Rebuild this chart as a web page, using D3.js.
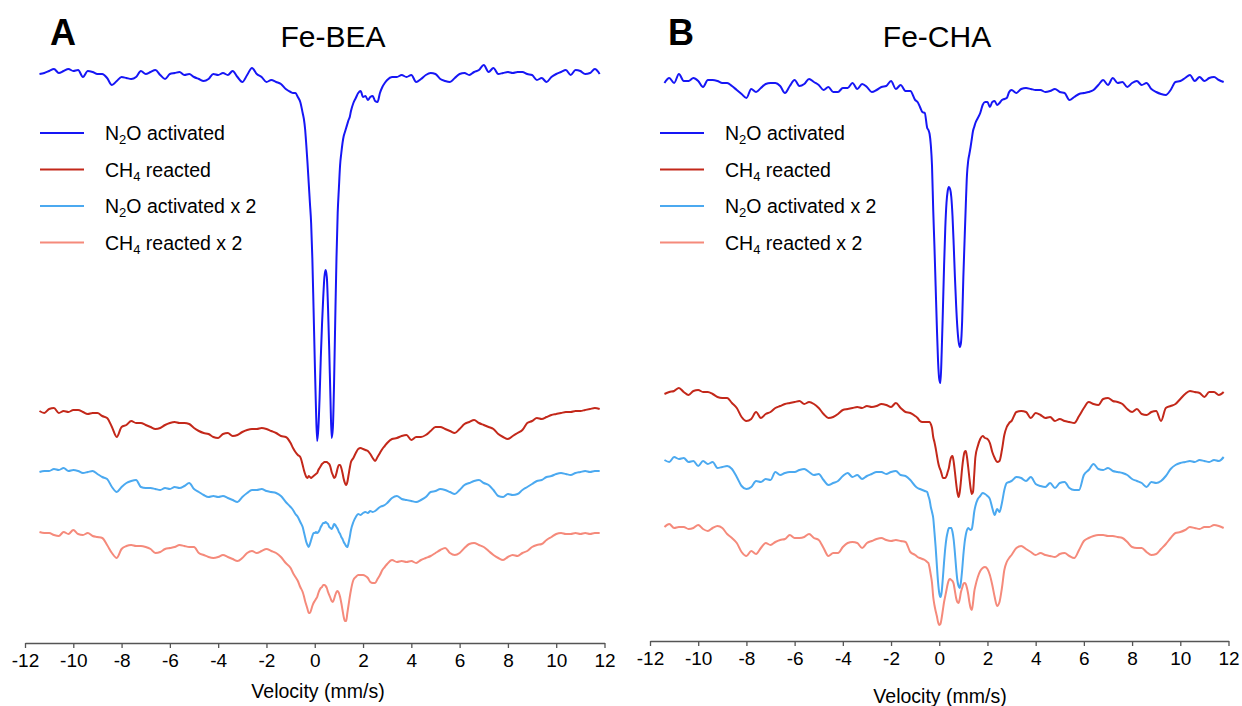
<!DOCTYPE html>
<html lang="en">
<head>
  <meta charset="UTF-8">
  <script src="https://d3js.org/d3.v7.min.js"></script>
  <style>
    body {
      margin: 0;
      background: #fff;
      font-family: "Liberation Sans", Arial, Helvetica, sans-serif;
    }
    .tick text { font-size: 19px; fill: #000; }
    .tick line, .domain { stroke: #555; stroke-width: 1.3px; }
  </style>
</head>
<body>
<script>
  // velocity grid (mm/s), finer around the quadrupole doublets
  const velocity = [
    -11.4,-11.2,-11,-10.8,-10.6,-10.4,-10.2,-10,-9.8,-9.6,-9.4,-9.2,-9,-8.8,-8.6,-8.4,-8.2,-8,-7.8,-7.6,
    -7.4,-7.2,-7,-6.8,-6.6,-6.4,-6.2,-6,-5.8,-5.6,-5.4,-5.2,-5,-4.8,-4.6,-4.4,-4.2,-4,-3.8,-3.6,
    -3.4,-3.2,-3,-2.8,-2.6,-2.4,-2.2,-2,-1.8,-1.6,-1.4,-1.2,
    -1,-0.9,-0.8,-0.7,-0.6,
    -0.5,-0.45,-0.4,-0.35,-0.3,-0.25,-0.2,-0.15,-0.1,-0.05,0,0.05,0.1,0.15,0.2,0.25,0.3,0.35,0.4,0.45,
    0.5,0.55,0.6,0.65,0.7,0.75,0.8,0.85,0.9,0.95,1,1.05,1.1,1.15,1.2,1.25,1.3,1.35,1.4,1.45,1.5,
    1.6,1.7,1.8,1.9,2,2.1,2.2,2.3,2.4,2.5,2.6,2.7,2.8,2.9,3,
    3.2,3.4,3.6,3.8,4,4.2,4.4,4.6,4.8,5,5.2,5.4,5.6,5.8,6,6.2,6.4,6.6,6.8,7,
    7.2,7.4,7.6,7.8,8,8.2,8.4,8.6,8.8,9,9.2,9.4,9.6,9.8,10,10.2,10.4,10.6,10.8,11,
    11.2,11.4,11.6,11.8
  ];

  // stacked transmission (offset, a.u.) -- Fe-BEA
  const beaN2O = [
    56.9,57.0,57.2,57.4,57.0,57.2,57.4,57.2,57.3,56.6, 57.2,57.1,56.9,56.9,56.5,55.8,56.2,56.6,56.5,56.4,
    56.6,57.2,56.9,57.1,57.3,56.8,56.4,56.9,57.0,57.1, 56.8,56.9,56.6,56.4,56.2,56.4,56.9,56.8,57.0,56.8,
    57.2,56.6,56.1,56.8,57.5,56.9,56.6,56.1,56.3,56.1, 55.9,55.4,
    55.1,55.0,55.0,54.6,54.1,
    53.0,52.4,51.4,49.8,48.0,46.0,44.0,42.0,38.5,33.5, 28.3,23.5,20.2,21.5,24.5,28.5,31.8,34.5,36.6,37.3,
    36.6,33.5,29.3,24.5,20.5,21.5,26.0,32.5,38.5,43.0, 45.5,47.8,49.0,50.0,50.7,51.1,51.5,51.9,52.3,52.6, 53.2,
    54.0,54.5,55.0,55.2,54.6,54.7,54.3,54.6,54.7,54.2,54.1,55.0,55.6,56.0,56.3,
    56.6,56.6,56.8,56.6,56.8,56.1,56.4,56.8,57.0,56.9, 56.4,56.2,56.1,56.5,56.9,57.0,56.8,57.1,57.3,57.8,
    57.1,57.5,56.9,57.0,57.1,57.0,57.1,57.1,56.9,56.8, 56.3,56.5,56.1,56.6,56.9,57.1,57.3,56.8,57.3,57.2,
    56.9,57.0,57.4,56.9
  ];
  const beaCH4 = [
    23.2,23.0,23.4,23.5,23.0,23.2,23.1,23.3,23.3,23.1, 22.9,23.0,23.0,22.7,22.5,21.6,20.6,21.6,21.8,22.2,
    22.0,22.0,21.8,21.6,21.4,21.5,21.8,22.0,22.1,22.0, 22.0,21.9,21.5,21.2,21.0,20.9,20.6,20.5,20.9,21.0,
    20.7,20.8,21.1,21.3,21.4,21.4,21.5,21.4,21.2,21.0, 20.7,20.6,
    20.0,19.5,19.1,18.8,18.6,
    17.8,17.3,16.9,16.6,16.5,16.7,16.6,16.5,16.6,16.7, 16.8,16.9,17.0,17.3,17.5,17.7,17.9,18.0,18.1,18.1,
    18.1,18.0,17.9,17.6,17.1,16.8,16.5,16.6,17.0,17.5, 17.8,17.8,17.5,17.0,16.4,16.0,15.8,16.1,16.8,17.5, 18.1,
    18.5,19.0,19.4,19.5,19.4,19.3,19.2,18.9,18.5,18.2,18.6,19.0,19.4,19.7,20.0,
    20.4,20.5,20.7,20.8,20.3,20.6,20.6,20.8,21.2,21.6, 21.6,21.4,21.2,21.0,21.4,21.9,22.1,22.3,22.0,21.8,
    21.6,21.4,20.9,20.6,20.4,20.7,21.0,21.3,22.0,22.2, 22.5,22.4,22.6,22.8,22.9,23.0,23.1,23.1,23.2,23.2,
    23.3,23.4,23.5,23.4
  ];
  const beaN2Ox2 = [
    17.1,17.2,17.2,17.4,17.3,17.5,17.2,17.3,17.2,17.0, 17.1,17.2,16.9,16.6,16.4,15.6,15.1,15.6,16.0,16.2,
    16.3,15.6,15.5,15.5,15.4,15.3,15.5,15.4,15.6,15.5, 15.7,16.0,15.4,15.1,14.8,14.6,14.7,14.6,14.7,14.5,
    14.3,14.1,14.6,15.0,15.3,15.3,15.4,15.2,15.1,15.0, 14.7,14.1,
    13.6,13.3,12.9,12.6,12.1,
    11.6,11.1,10.6,10.1,9.8,9.6,9.9,10.3,10.7,11.0, 11.0,11.1,11.0,11.1,11.3,11.6,11.8,12.0,12.0,12.1,
    12.0,11.9,11.6,11.5,11.4,11.6,11.9,11.8,11.6,11.4, 11.1,10.9,10.6,10.4,10.1,9.9,9.7,9.6,10.0,10.6, 11.3,
    12.1,12.6,12.9,12.8,13.0,13.1,13.0,13.2,13.1,13.2,13.4,13.6,13.7,13.8,14.0,
    14.5,14.7,14.4,14.3,14.2,14.1,14.3,14.6,15.1,15.2, 15.4,15.3,15.1,14.9,15.3,15.8,16.0,16.2,16.3,16.0,
    15.8,15.3,14.7,14.6,14.9,14.8,14.9,15.3,15.6,15.9, 16.2,16.3,16.6,16.7,16.9,17.0,16.9,16.8,17.0,17.1,
    17.2,17.1,17.2,17.2
  ];
  const beaCH4x2 = [
    11.1,11.0,11.0,10.8,10.7,11.1,10.9,11.3,10.9,10.8, 11.0,10.7,10.6,10.5,9.8,9.0,8.5,9.4,9.7,9.8,
    9.7,9.7,9.6,9.4,9.0,9.1,9.4,9.5,9.6,9.8, 9.7,9.6,9.6,9.0,8.8,8.6,8.5,8.6,8.8,8.6,
    8.4,8.2,8.5,9.0,9.2,9.0,9.2,9.4,9.2,9.0, 8.6,8.0,
    7.5,7.0,6.6,6.2,5.6,
    5.1,4.7,4.2,3.8,3.4,3.0,3.0,3.3,3.7,4.0, 4.2,4.4,4.6,5.0,5.3,5.5,5.6,5.8,5.8,5.7,
    5.5,5.1,4.8,4.5,4.2,4.1,4.4,4.8,5.1,5.2, 5.0,4.6,4.0,3.3,2.6,2.2,2.2,3.0,3.8,4.6, 5.3,
    6.3,6.6,6.8,6.8,6.8,6.7,6.5,6.1,6.0,6.0,6.4,6.8,7.3,7.6,7.9,
    8.3,8.1,8.2,8.1,8.2,8.0,8.3,8.5,8.7,9.0, 9.3,9.5,9.0,8.8,9.0,9.5,9.9,10.0,9.8,9.6,
    9.2,8.8,8.5,8.3,8.6,8.8,8.7,9.0,9.2,9.6, 9.8,9.9,10.3,10.6,10.9,11.0,10.9,10.9,11.0,10.9,
    11.0,10.9,11.0,11.0
  ];

  // Fe-CHA
  const chaN2O = [
    55.8,56.3,55.8,56.7,56.0,56.0,56.3,56.0,55.4,56.1, 56.1,56.0,55.8,55.8,55.5,55.1,54.7,54.3,55.2,54.9,
    55.3,55.7,55.8,55.8,55.5,54.8,55.5,56.1,55.5,55.7, 56.2,55.9,55.6,55.1,55.4,54.9,54.9,55.3,55.3,55.8,
    55.2,55.7,55.4,54.9,55.1,55.4,55.5,56.0,55.2,55.6, 55.0,55.0,
    54.1,53.9,53.4,52.9,52.8,
    51.3,51.1,50.7,49.6,47.5,43.1,39.5,35.5,31.5,28.0, 26.2,25.8,28.8,33.0,37.5,41.3,43.8,45.0,45.4,45.2,
    44.4,42.5,39.6,36.4,33.6,31.4,30.0,29.4,29.8,32.0, 36.4,40.0,43.5,46.6,48.0,48.7,49.4,50.2,51.0,51.4, 51.8,
    52.3,52.8,53.6,53.9,53.9,53.4,53.9,54.0,53.6,53.8,54.1,54.2,54.3,54.9,55.1,
    54.8,55.2,55.3,55.2,55.1,55.1,54.9,55.0,55.2,54.9, 54.8,54.1,54.4,54.7,54.8,54.9,55.1,55.6,56.1,55.6,
    56.3,55.8,55.9,55.4,55.8,56.0,55.6,55.8,55.2,54.9, 54.7,54.6,55.1,55.9,56.0,56.3,56.6,56.0,56.4,56.0,
    56.3,56.4,56.1,55.9
  ];
  const chaCH4 = [
    24.7,24.9,25.0,25.3,24.9,24.6,25.0,25.1,24.9,24.9, 24.7,24.4,24.3,24.3,23.8,23.3,22.4,22.0,22.2,22.9,
    22.3,22.7,22.9,23.3,23.5,23.7,23.8,23.9,24.0,23.7, 23.9,23.7,23.3,22.7,22.3,22.4,22.7,23.1,23.2,23.3,
    23.4,23.3,23.5,23.4,23.5,23.7,23.6,23.4,23.8,23.3, 22.9,22.8,
    22.5,22.3,22.0,21.9,21.9,
    21.9,21.9,21.9,21.7,21.3,20.4,19.9,19.3,18.6,17.9, 17.4,17.1,16.7,16.3,16.3,16.3,16.5,16.9,17.3,18.0,
    18.4,18.5,17.9,16.9,15.8,14.9,14.4,14.9,16.0,17.3, 18.3,18.9,19.0,18.4,17.4,16.3,15.3,14.7,14.9,16.6, 18.4,
    19.5,20.2,20.5,20.3,20.2,19.8,18.9,18.3,17.9,18.0,19.1,20.6,21.4,21.8,22.0,
    22.9,23.0,22.9,22.3,22.8,22.6,22.3,22.4,22.0,22.2, 22.0,21.9,21.8,22.5,23.3,23.9,23.7,23.6,24.2,24.3,
    24.0,23.9,23.7,23.2,22.9,23.2,22.7,22.6,22.9,23.0, 22.0,23.3,23.5,23.7,24.2,24.7,25.0,24.9,24.8,24.4,
    24.9,24.9,24.6,24.9
  ];
  const chaN2Ox2 = [
    18.1,17.9,18.4,18.2,18.3,17.9,18.0,17.5,18.0,17.7, 17.9,17.3,17.4,17.5,17.2,16.4,15.5,15.2,15.4,16.0,
    15.9,16.2,16.1,16.9,16.6,16.8,16.9,16.9,17.1,17.2, 16.9,16.6,16.7,16.1,15.6,15.8,16.0,16.5,16.8,16.4,
    16.6,16.2,16.5,16.7,16.9,16.9,16.7,16.9,17.0,16.6, 16.5,16.1,
    15.5,15.3,15.2,15.1,15.0,
    14.9,14.5,14.1,13.4,12.9,12.3,10.9,9.4,7.6,5.9, 4.8,4.4,4.9,6.3,7.9,9.3,10.3,10.9,11.3,11.3,
    11.3,10.9,10.1,8.8,7.3,6.1,5.5,5.3,5.9,7.1, 8.6,9.8,10.6,11.1,11.3,11.2,11.1,11.2,11.9,12.9, 13.5,
    14.2,14.5,14.8,14.7,14.5,14.2,13.3,12.6,13.2,12.9,13.8,15.1,15.8,15.9,16.0,
    16.4,16.3,16.0,16.4,15.7,15.5,15.4,15.8,15.3,15.8, 15.9,15.3,15.1,15.1,16.6,17.1,17.7,17.2,17.1,17.3,
    17.0,16.9,16.8,16.6,16.2,16.0,15.8,15.4,15.9,15.8, 16.0,16.5,17.2,17.6,17.8,17.9,18.0,17.9,18.1,18.0,
    17.9,18.1,18.0,18.4
  ];
  const chaCH4x2 = [
    11.4,11.7,11.3,11.4,11.4,11.2,11.3,11.6,11.2,11.0, 11.3,11.5,11.3,10.7,10.3,9.8,8.9,8.5,9.0,8.7,
    9.3,9.8,9.6,9.9,10.1,10.2,10.6,10.3,10.3,10.4, 10.7,10.3,10.1,9.3,8.5,8.8,8.8,9.4,9.8,9.9,
    9.8,9.3,9.8,10.0,10.2,10.3,10.1,10.0,10.1,10.0, 9.9,8.9,
    8.6,8.4,8.3,8.2,8.1,
    7.9,7.8,7.3,6.6,5.8,4.4,3.6,3.0,2.5,1.9, 1.6,1.7,2.3,3.1,3.9,4.5,5.1,5.7,6.1,6.2,
    6.1,6.0,5.7,5.0,4.3,3.9,3.8,4.2,4.9,5.3, 5.7,5.8,5.7,5.3,4.7,3.9,3.3,3.1,3.8,4.9, 5.5,
    6.4,7.0,7.3,7.4,7.2,6.6,5.6,4.4,3.5,3.9,5.3,7.1,7.9,8.3,8.6,
    9.3,9.5,9.2,8.9,8.6,8.8,8.6,8.5,8.4,8.7, 8.8,8.5,8.3,9.1,10.0,10.3,10.5,10.6,10.6,10.5,
    10.5,10.4,10.3,9.9,9.4,9.3,9.3,8.9,8.6,8.7, 9.2,9.7,10.3,10.8,10.9,11.1,11.4,11.3,11.2,11.4,
    11.4,11.6,11.5,11.3
  ];

  const tickValues = [-12, -10, -8, -6, -4, -2, 0, 2, 4, 6, 8, 10, 12];
  const panelLetters = ["A", "B"];
  const panelTitles = ["Fe-BEA", "Fe-CHA"];
  const legendMain = ["N", "CH", "N", "CH"];
  const legendSub = ["2", "4", "2", "4"];
  const legendRest = ["O activated", " reacted", "O activated x 2", " reacted x 2"];
  const colors = ["#1616f5", "#c3281a", "#4ba9f0", "#f58a7b"];
  const xLabel = "Velocity (mm/s)";

  const width = 1242, height = 706;

  const svg = d3.select("body").append("svg")
    .attr("width", width)
    .attr("height", height);

  const panels = [
    { x0: 25, x1: 604.5, axisY: 643, series: [beaN2O, beaCH4, beaN2Ox2, beaCH4x2],
      letterX: 50, titleX: 333, legendX: 40, labelX: 318, labelY: 698 },
    { x0: 650, x1: 1228.5, axisY: 641, series: [chaN2O, chaCH4, chaN2Ox2, chaCH4x2],
      letterX: 668, titleX: 937, legendX: 660, labelX: 940, labelY: 703 }
  ];

  panels.forEach((p, pi) => {
    const g = svg.append("g");

    const x = d3.scaleLinear().domain([-12, 12]).range([p.x0, p.x1]);
    const y = d3.scaleLinear().domain([0, 60]).range([p.axisY, p.axisY - 600]);

    const line = d3.line()
      .x((d, i) => x(velocity[i]))
      .y(d => y(d))
      .curve(d3.curveMonotoneX);

    // draw bottom traces first so the blue doublet sits on top
    [3, 2, 1, 0].forEach(si => {
      g.append("path")
        .datum(p.series[si])
        .attr("d", line)
        .attr("fill", "none")
        .attr("stroke", colors[si])
        .attr("stroke-width", 2)
        .attr("stroke-linejoin", "round");
    });

    g.append("g")
      .attr("transform", `translate(0,${p.axisY})`)
      .call(d3.axisBottom(x)
        .tickValues(tickValues)
        .tickSize(5)
        .tickSizeOuter(0)
        .tickPadding(6)
        .tickFormat(d => String(d)))
      .call(a => a.selectAll("text").attr("font-family", "'Liberation Sans', Arial, sans-serif"));

    g.append("text")
      .attr("x", p.labelX)
      .attr("y", p.labelY)
      .attr("text-anchor", "middle")
      .attr("font-size", 19.5)
      .text(xLabel);

    g.append("text")
      .attr("x", p.letterX)
      .attr("y", 45)
      .attr("font-size", 36)
      .attr("font-weight", "bold")
      .text(panelLetters[pi]);

    g.append("text")
      .attr("x", p.titleX)
      .attr("y", 47)
      .attr("text-anchor", "middle")
      .attr("font-size", 30)
      .text(panelTitles[pi]);

    // legend
    legendMain.forEach((m, li) => {
      const ly = 133 + li * 36.5;
      g.append("line")
        .attr("x1", p.legendX).attr("x2", p.legendX + 44)
        .attr("y1", ly).attr("y2", ly)
        .attr("stroke", colors[li])
        .attr("stroke-width", 2);
      const t = g.append("text")
        .attr("x", p.legendX + 65)
        .attr("y", ly + 7)
        .attr("font-size", 19.5);
      t.append("tspan").text(m);
      t.append("tspan").attr("font-size", 13).attr("dy", 4).text(legendSub[li]);
      t.append("tspan").attr("dy", -4).text(legendRest[li]);
    });
  });
</script>
</body>
</html>
